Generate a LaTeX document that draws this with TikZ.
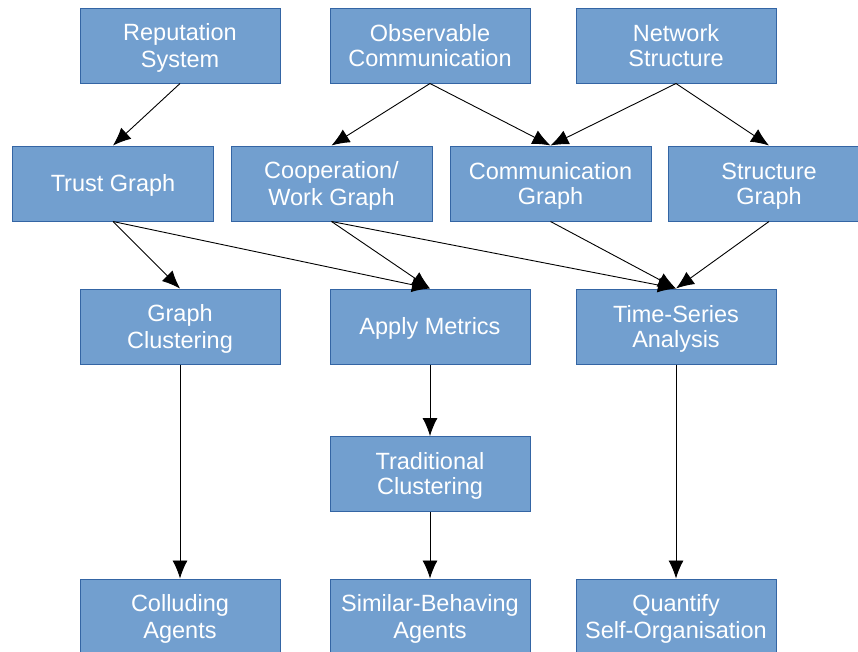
\documentclass[tikz,border=0pt]{standalone}
\usepackage{fontspec}
\setmainfont{Liberation Sans}
\usetikzlibrary{arrows.meta}
\definecolor{boxfill}{HTML}{729FCF}
\definecolor{boxline}{HTML}{3465A4}
% a caption line with a fixed ascent and descent
\newcommand\capline[1]{\strut#1}
\begin{document}
\begin{tikzpicture}[x=1pt,y=-1pt,
  stepbox/.style={rectangle, draw=boxline, line width=1pt, fill=boxfill,
    minimum width=200pt, minimum height=75pt, inner sep=0pt,
    text=white, align=center,
    font=\fontsize{23.5}{25}\selectfont
      \setbox\strutbox\hbox{\vrule height 21pt depth 4pt width 0pt}},
  flow/.style={draw=black, line width=0.9pt, -{Latex[length=18pt,width=15pt]}}]
\useasboundingbox (0,0) rectangle (858,651);
\clip (0,0) rectangle (858,651);
% sources
\node[stepbox] (rep) at (180,45.5) {\capline{Reputation}\\\capline{System}};
\node[stepbox] (obs) at (430,45.5) {\capline{Observable}\\\capline{Communication}};
\node[stepbox] (net) at (676,45.5) {\capline{Network}\\\capline{Structure}};
% graphs
\node[stepbox, minimum width=201pt] (trust) at (113,183.5) {\capline{Trust Graph}};
\node[stepbox, minimum width=201pt] (coop) at (331.5,183.5) {\capline{Cooperation/}\\\capline{Work Graph}};
\node[stepbox, minimum width=201pt] (comm) at (550.5,183.5) {\capline{Communication}\\\capline{Graph}};
\node[stepbox, minimum width=201pt] (struct) at (769,183.5) {\capline{Structure}\\\capline{Graph}};
% analysis
\node[stepbox] (gclus) at (180,326.5) {\capline{Graph}\\\capline{Clustering}};
\node[stepbox] (metrics) at (430,326.5) {\capline{Apply Metrics}};
\node[stepbox] (ts) at (676,326.5) {\capline{Time-Series}\\\capline{Analysis}};
\node[stepbox] (trad) at (430,474) {\capline{Traditional}\\\capline{Clustering}};
% results
\node[stepbox] (coll) at (180,616.5) {\capline{Colluding}\\\capline{Agents}};
\node[stepbox] (sim) at (430,616.5) {\capline{Similar-Behaving}\\\capline{Agents}};
\node[stepbox] (quant) at (676,616.5) {\capline{Quantify}\\\capline{Self-Organisation}};
% connectors
\draw[flow] (rep.south) -- (trust.north);
\draw[flow] (obs.south) -- (coop.north);
\draw[flow] (obs.south) -- (comm.north);
\draw[flow] (net.south) -- (comm.north);
\draw[flow] (net.south) -- (struct.north);
\draw[flow] (trust.south) -- (gclus.north);
\draw[flow] (trust.south) -- (metrics.north);
\draw[flow] (coop.south) -- (metrics.north);
\draw[flow] (coop.south) -- (ts.north);
\draw[flow] (comm.south) -- (ts.north);
\draw[flow] (struct.south) -- (ts.north);
\draw[flow] (gclus.south) -- (coll.north);
\draw[flow] (metrics.south) -- (trad.north);
\draw[flow] (trad.south) -- (sim.north);
\draw[flow] (ts.south) -- (quant.north);
\end{tikzpicture}
\end{document}
